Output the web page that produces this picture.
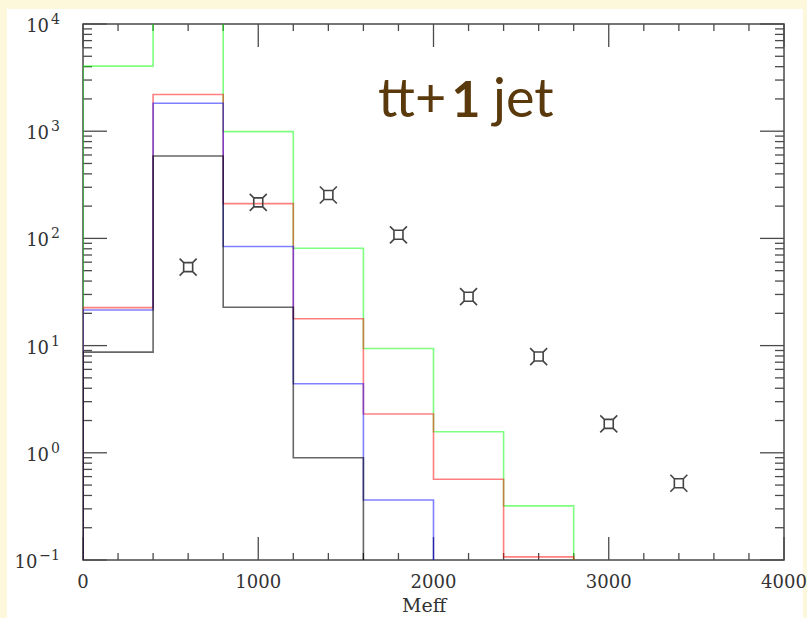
<!DOCTYPE html>
<html>
<head>
<meta charset="utf-8">
<script src="https://cdn.jsdelivr.net/npm/d3@7"></script>
<style>
  body { margin: 0; background: #fdf7db; }
  svg { display: block; }
</style>
</head>
<body>
<script>
// bin edges of the Meff histograms (GeV), 400 wide
const binStarts = [0, 400, 800, 1200, 1600, 2000, 2400];
const binWidth = 400;

// histogram contents per bin
const greenCounts = [4050, 20000, 990, 81, 9.4, 1.57, 0.32];
const redCounts = [22.6, 2200, 211, 17.8, 2.3, 0.566, 0.107];
const blueCounts = [21.5, 1820, 84, 4.4, 0.363, 0, 0];
const blackCounts = [8.7, 587, 22.8, 0.9, 0, 0, 0];

// tt+1 jet points
const pointX = [600, 1000, 1400, 1800, 2200, 2600, 3000, 3400];
const pointY = [54, 217, 254, 108, 28.6, 7.9, 1.86, 0.52];

const xTicks = [0, 1000, 2000, 3000, 4000];
const yExponents = [-1, 0, 1, 2, 3, 4];

const width = 807;
const height = 618;
const margin = { left: 83, right: 23, top: 24, bottom: 58 };

const svg = d3
  .select("body")
  .append("svg")
  .attr("width", width)
  .attr("height", height);

//Background + white panel
svg.append("rect").attr("width", width).attr("height", height).attr("fill", "#fdf7db");
svg
  .append("rect")
  .attr("x", 7)
  .attr("y", 9)
  .attr("width", 796)
  .attr("height", 609)
  .attr("fill", "#ffffff");

//Scales
const xScale = d3
  .scaleLinear()
  .domain([0, 4000])
  .range([margin.left, width - margin.right]);
const yScale = d3
  .scaleLog()
  .domain([0.1, 10000])
  .range([height - margin.bottom, margin.top]);

const x0 = xScale(0), x1 = xScale(4000);
const y0 = yScale(0.1), y1 = yScale(10000);

//Frame
const axisColor = "#4a4a4a";
svg
  .append("rect")
  .attr("x", x0)
  .attr("y", y1)
  .attr("width", x1 - x0)
  .attr("height", y0 - y1)
  .attr("fill", "none")
  .attr("stroke", axisColor)
  .attr("stroke-width", 1.5);

//Ticks along x (bottom and mirrored top)
const xMinor = d3.range(0, 4001, 200);
const ticks = svg.append("g").attr("stroke", axisColor).attr("stroke-width", 1.3);
xMinor.forEach((v) => {
  const len = v % 1000 === 0 ? 23 : 7;
  ticks.append("line").attr("x1", xScale(v)).attr("x2", xScale(v)).attr("y1", y0).attr("y2", y0 - len);
  ticks.append("line").attr("x1", xScale(v)).attr("x2", xScale(v)).attr("y1", y1).attr("y2", y1 + len);
});

//Ticks along y (left and mirrored right)
yExponents.forEach((e) => {
  const major = Math.pow(10, e);
  ticks.append("line").attr("x1", x0).attr("x2", x0 + 24).attr("y1", yScale(major)).attr("y2", yScale(major));
  ticks.append("line").attr("x1", x1).attr("x2", x1 - 24).attr("y1", yScale(major)).attr("y2", yScale(major));
  if (e < 4) {
    for (let k = 2; k <= 9; k++) {
      const v = k * major;
      ticks.append("line").attr("x1", x0).attr("x2", x0 + 9).attr("y1", yScale(v)).attr("y2", yScale(v));
      ticks.append("line").attr("x1", x1).attr("x2", x1 - 9).attr("y1", yScale(v)).attr("y2", yScale(v));
    }
  }
});

//Tick labels
const labelFont = "'DejaVu Serif', serif";
svg
  .append("g")
  .selectAll("text")
  .data(xTicks)
  .enter()
  .append("text")
  .attr("x", (d) => xScale(d))
  .attr("y", y0 + 28)
  .attr("text-anchor", "middle")
  .attr("font-family", labelFont)
  .attr("font-size", 18)
  .attr("fill", "#333")
  .text((d) => d);

const yLabels = svg
  .append("g")
  .selectAll("text")
  .data(yExponents)
  .enter()
  .append("text")
  .attr("x", 60)
  .attr("y", (d) => yScale(Math.pow(10, d)) + 8)
  .attr("text-anchor", "end")
  .attr("font-family", labelFont)
  .attr("fill", "#333");
yLabels.append("tspan").attr("font-size", 18).text("10");
yLabels
  .append("tspan")
  .attr("font-size", 14)
  .attr("dx", 2)
  .attr("dy", -8)
  .text((d) => (d < 0 ? "\u2212" + -d : d));

//Axis title
svg
  .append("text")
  .attr("x", 402)
  .attr("y", 612)
  .attr("font-family", labelFont)
  .attr("font-size", 19)
  .attr("fill", "#333")
  .text("Meff");

//Histograms
svg
  .append("clipPath")
  .attr("id", "plot-clip")
  .append("rect")
  .attr("x", x0)
  .attr("y", y1)
  .attr("width", x1 - x0)
  .attr("height", y0 - y1);

const stepPath = (counts) => {
  let last = counts.length - 1;
  while (last > 0 && counts[last] <= 0) last--;
  const yOf = (c) => yScale(Math.max(c, 0.1));
  let p = "M" + xScale(binStarts[0]) + "," + y0;
  for (let i = 0; i <= last; i++) {
    p += "L" + xScale(binStarts[i]) + "," + yOf(counts[i]);
    p += "L" + xScale(binStarts[i] + binWidth) + "," + yOf(counts[i]);
  }
  p += "L" + xScale(binStarts[last] + binWidth) + "," + y0;
  return p;
};

const hists = [
  { counts: greenCounts, color: "#00ff00", opacity: 0.5 },
  { counts: redCounts, color: "#ff0000", opacity: 0.5 },
  { counts: blueCounts, color: "#0000ff", opacity: 0.5 },
  { counts: blackCounts, color: "#000000", opacity: 0.6 },
];

svg
  .append("g")
  .attr("clip-path", "url(#plot-clip)")
  .selectAll("path")
  .data(hists)
  .enter()
  .append("path")
  .attr("d", (d) => stepPath(d.counts))
  .attr("fill", "none")
  .attr("stroke", (d) => d.color)
  .attr("stroke-opacity", (d) => d.opacity)
  .attr("stroke-width", 1.6);

//Star markers: square with diagonal arms at the corners
const h = 4.5, arm = 4;
const markerPath =
  `M${-h},${-h}L${h},${-h}L${h},${h}L${-h},${h}Z` +
  `M${-h},${-h}l${-arm},${-arm}M${h},${-h}l${arm},${-arm}` +
  `M${h},${h}l${arm},${arm}M${-h},${h}l${-arm},${arm}`;

svg
  .append("g")
  .selectAll("path")
  .data(pointX.map((x, i) => ({ x, y: pointY[i] })))
  .enter()
  .append("path")
  .attr("transform", (d) => `translate(${xScale(d.x)},${yScale(d.y)})`)
  .attr("d", markerPath)
  .attr("fill", "none")
  .attr("stroke", "#444")
  .attr("stroke-width", 1.6);

//Title
const title = svg
  .append("text")
  .attr("y", 117)
  .attr("font-family", "Lato, 'Open Sans', sans-serif")
  .attr("font-size", 54)
  .attr("fill", "#5a3a0c");
title.append("tspan").attr("x", 378).text("tt+");
title
  .append("tspan")
  .attr("x", 466)
  .attr("text-anchor", "middle")
  .attr("font-weight", "bold")
  .attr("font-size", 50)
  .text("1");
title.append("tspan").attr("x", 493).attr("text-anchor", "start").text("jet");
</script>
</body>
</html>
